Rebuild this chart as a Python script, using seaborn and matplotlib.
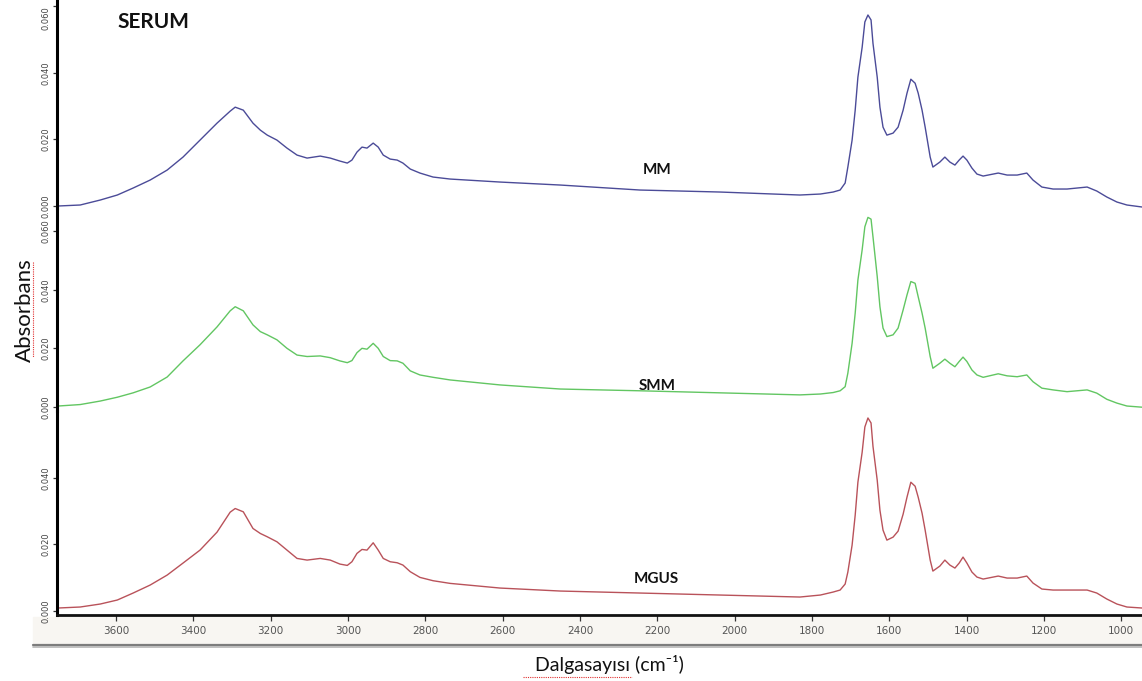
import matplotlib
matplotlib.use("Agg")
import matplotlib.pyplot as plt
import pandas as pd
import seaborn as sns
from matplotlib.lines import Line2D
from matplotlib.patches import Rectangle

# FTIR serum spectra: common wavenumber grid (cm-1) and absorbance per group
wavenumber = [
    3750, 3693, 3641, 3597, 3556, 3512, 3468, 3427, 3383, 3339,
    3305, 3292, 3271, 3246, 3227, 3209, 3184, 3158, 3132, 3106,
    3072, 3046, 3021, 3002, 2990, 2977, 2964, 2951, 2935, 2922,
    2909, 2891, 2873, 2858, 2839, 2814, 2780, 2736, 2607, 2451,
    2245, 2038, 1831, 1778, 1745, 1727, 1714, 1707, 1696, 1688,
    1681, 1670, 1663, 1655, 1647, 1642, 1631, 1624, 1616, 1606,
    1590, 1577, 1564, 1554, 1544, 1533, 1525, 1515, 1507, 1494,
    1487, 1469, 1456, 1443, 1430, 1419, 1409, 1399, 1386, 1373,
    1357, 1318, 1295, 1269, 1244, 1228, 1205, 1176, 1140, 1088,
    1063, 1037, 1011, 985, 946,
]

abs_mm = [
    0.0000, 0.0003, 0.0018, 0.0033, 0.0054, 0.0078, 0.0108, 0.0147, 0.0198, 0.0249,
    0.0285, 0.0297, 0.0288, 0.0249, 0.0228, 0.0213, 0.0198, 0.0174, 0.0153, 0.0144,
    0.0150, 0.0144, 0.0135, 0.0129, 0.0138, 0.0162, 0.0177, 0.0174, 0.0189, 0.0177,
    0.0153, 0.0141, 0.0138, 0.0129, 0.0111, 0.0099, 0.0087, 0.0081, 0.0072, 0.0063,
    0.0048, 0.0042, 0.0033, 0.0036, 0.0042, 0.0048, 0.0069, 0.0117, 0.0198, 0.0288,
    0.0387, 0.0477, 0.0553, 0.0574, 0.0559, 0.0489, 0.0387, 0.0297, 0.0237, 0.0213,
    0.0219, 0.0237, 0.0288, 0.0339, 0.0381, 0.0369, 0.0339, 0.0288, 0.0237, 0.0147,
    0.0117, 0.0132, 0.0147, 0.0132, 0.0123, 0.0138, 0.0150, 0.0138, 0.0114, 0.0096,
    0.0090, 0.0099, 0.0093, 0.0093, 0.0099, 0.0078, 0.0057, 0.0051, 0.0051, 0.0057,
    0.0045, 0.0027, 0.0012, 0.0003, -0.0003,
]

abs_smm = [
    0.0003, 0.0008, 0.0020, 0.0033, 0.0048, 0.0068, 0.0102, 0.0157, 0.0212, 0.0273,
    0.0328, 0.0342, 0.0328, 0.0280, 0.0257, 0.0246, 0.0229, 0.0200, 0.0177, 0.0172,
    0.0174, 0.0168, 0.0157, 0.0151, 0.0158, 0.0185, 0.0200, 0.0197, 0.0217, 0.0200,
    0.0172, 0.0158, 0.0157, 0.0149, 0.0123, 0.0109, 0.0101, 0.0092, 0.0075, 0.0061,
    0.0055, 0.0048, 0.0041, 0.0044, 0.0049, 0.0055, 0.0069, 0.0115, 0.0217, 0.0320,
    0.0433, 0.0536, 0.0615, 0.0647, 0.0641, 0.0581, 0.0445, 0.0342, 0.0269, 0.0240,
    0.0246, 0.0269, 0.0331, 0.0382, 0.0428, 0.0422, 0.0376, 0.0320, 0.0269, 0.0172,
    0.0132, 0.0149, 0.0163, 0.0149, 0.0137, 0.0155, 0.0170, 0.0155, 0.0126, 0.0109,
    0.0101, 0.0113, 0.0106, 0.0103, 0.0109, 0.0086, 0.0064, 0.0058, 0.0052, 0.0058,
    0.0047, 0.0026, 0.0013, 0.0003, -0.0001,
]

abs_mgus = [
    0.0009, 0.0012, 0.0021, 0.0033, 0.0054, 0.0078, 0.0108, 0.0144, 0.0183, 0.0237,
    0.0297, 0.0308, 0.0298, 0.0248, 0.0233, 0.0223, 0.0208, 0.0183, 0.0158, 0.0153,
    0.0158, 0.0153, 0.0141, 0.0137, 0.0148, 0.0173, 0.0185, 0.0183, 0.0205, 0.0183,
    0.0158, 0.0148, 0.0145, 0.0138, 0.0118, 0.0101, 0.0091, 0.0083, 0.0069, 0.0060,
    0.0054, 0.0048, 0.0042, 0.0048, 0.0057, 0.0063, 0.0081, 0.0117, 0.0198, 0.0288,
    0.0387, 0.0477, 0.0553, 0.0580, 0.0565, 0.0495, 0.0393, 0.0303, 0.0243, 0.0213,
    0.0222, 0.0240, 0.0291, 0.0342, 0.0387, 0.0375, 0.0342, 0.0294, 0.0243, 0.0153,
    0.0120, 0.0135, 0.0153, 0.0138, 0.0129, 0.0144, 0.0162, 0.0144, 0.0117, 0.0102,
    0.0096, 0.0105, 0.0099, 0.0099, 0.0105, 0.0084, 0.0066, 0.0063, 0.0063, 0.0063,
    0.0054, 0.0036, 0.0021, 0.0012, 0.0009,
]

groups = ["MM", "SMM", "MGUS"]
colors = ["#4b4b98", "#62c662", "#b9525a"]
x_ticks = [3600, 3400, 3200, 3000, 2800, 2600, 2400, 2200, 2000, 1800, 1600, 1400, 1200, 1000]
y_ticks = [[0.0, 0.02, 0.04, 0.06], [0.0, 0.02, 0.04, 0.06], [0.0, 0.02, 0.04]]

spectra = pd.DataFrame({
    "wavenumber": wavenumber * 3,
    "absorbance": abs_mm + abs_smm + abs_mgus,
    "group": [g for g in groups for _ in wavenumber],
})

sns.set_style("white")
plt.rcParams["font.family"] = ["Lato", "DejaVu Sans"]

W, H = 1142, 681
fig = plt.figure(figsize=(W / 100, H / 100), dpi=100)


def fx(x):
    return x / W


def fy(y):
    return 1 - y / H


def px_box(top, bottom, left=57, right=1142):
    return [left / W, 1 - bottom / H, (right - left) / W, (bottom - top) / H]


boxes = [px_box(0, 208), px_box(208, 411), px_box(411, 615)]
ylims = [(-0.0006, 0.0619), (-0.0014, 0.0679), (-0.0012, 0.0601)]

for i, g in enumerate(groups):
    ax = fig.add_axes(boxes[i])
    sns.lineplot(data=spectra[spectra["group"] == g], x="wavenumber", y="absorbance",
                 ax=ax, color=colors[i], lw=1.0, sort=False, estimator=None)
    ax.set_xlim(3753, 946)
    ax.set_ylim(*ylims[i])
    ax.set_yticks(y_ticks[i])
    labels = ax.set_yticklabels([f"{v:.3f}" for v in y_ticks[i]], rotation=90,
                                va="center", fontsize=6, color="#444444",
                                family="DejaVu Sans")
    if i == 0:
        labels[-1].set_va("top")
    ax.set_xlabel("")
    ax.set_ylabel("")
    ax.patch.set_alpha(0)
    for s in ["top", "right"]:
        ax.spines[s].set_visible(False)
    ax.spines["left"].set_linewidth(2.2)
    ax.spines["left"].set_color("black")
    ax.tick_params(axis="y", direction="out", length=3, width=0.9,
                   color="#333333", pad=2, left=True)
    if i < 2:
        ax.spines["bottom"].set_visible(False)
        ax.tick_params(axis="x", bottom=False, labelbottom=False)
    else:
        ax.spines["bottom"].set_linewidth(2)
        ax.spines["bottom"].set_color("#111111")
        ax.set_xticks(x_ticks)
        ax.set_xticklabels([str(t) for t in x_ticks], fontsize=7.5,
                           color="#555555", family="DejaVu Sans")
        ax.tick_params(axis="x", direction="out", length=4, width=0.9,
                       color="#333333", pad=4, bottom=True)

# light band and double rule under the wavenumber axis
fig.add_artist(Rectangle((fx(33), fy(643)), fx(1142) - fx(33), fy(617) - fy(643),
                         transform=fig.transFigure, color="#f8f6f2", zorder=0))
fig.add_artist(Line2D([fx(33), 1], [fy(644.5), fy(644.5)], transform=fig.transFigure,
                      color="#7d7d7d", lw=1.6))
fig.add_artist(Line2D([fx(33), 1], [fy(646.5), fy(646.5)], transform=fig.transFigure,
                      color="#b5b5b5", lw=1.2))

fig.text(fx(117), fy(22), "SERUM", fontsize=15, fontweight="bold",
         color="#111111", ha="left", va="center")
label_pos = [(657, 170), (657, 386), (656, 579)]
for g, (lx, ly) in zip(groups, label_pos):
    fig.text(fx(lx), fy(ly), g, fontsize=11, fontweight="bold",
             color="#111111", ha="center", va="center")

fig.text(fx(25), fy(310), "Absorbans", fontsize=16, rotation=90,
         ha="center", va="center", color="#111111")
fig.text(fx(609), fy(665), "Dalgasayısı (cm⁻¹)", fontsize=14,
         ha="center", va="center", color="#111111")

# spell-check style underlines beneath the two axis titles
fig.add_artist(Line2D([fx(33), fx(33)], [fy(262), fy(357)], transform=fig.transFigure,
                      color="#e03030", lw=0.8, ls=(0, (1, 1))))
fig.add_artist(Line2D([fx(523), fx(632)], [fy(677), fy(677)], transform=fig.transFigure,
                      color="#e03030", lw=0.8, ls=(0, (1, 1))))

fig.savefig("out.png", dpi=100)
